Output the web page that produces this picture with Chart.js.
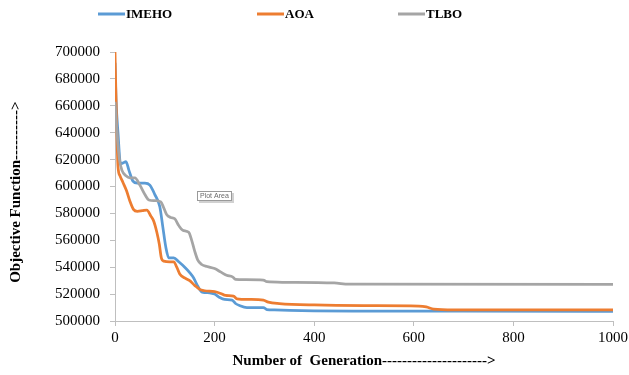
<!DOCTYPE html>
<html>
<head>
<meta charset="utf-8">
<script src="https://cdn.jsdelivr.net/npm/chart.js@4.4.1/dist/chart.umd.min.js"></script>
<style>
html,body{margin:0;padding:0;background:#fff;}
#wrap{width:629px;height:375px;position:relative;}
</style>
</head>
<body>
<div id="wrap"><canvas id="c" width="629" height="375"></canvas></div>
<script>
const seriesNames = ['IMEHO', 'AOA', 'TLBO'];
const seriesColors = ['#5B9BD5', '#ED7D31', '#A5A5A5'];
const xTicks = [0, 200, 400, 600, 800, 1000];
const yTicks = [500000, 520000, 540000, 560000, 580000, 600000, 620000, 640000, 660000, 680000, 700000];

const imehoData = [
  [0,692000],[2,665000],[6,640000],[11,617000],[16,617500],[22,618500],[28,612000],[36,604000],
  [45,602500],[60,602500],[70,601000],[80,594000],[90,585000],[96,570000],[102,555000],[108,547000],
  [118,547000],[128,544000],[140,540000],[150,536000],[158,532000],[166,526000],[175,521500],
  [190,521000],[200,520000],[210,517500],[220,516000],[235,515500],[242,513000],[250,511500],
  [265,510000],[285,510000],[298,510000],[305,508500],[320,508200],[400,507600],[500,507400],
  [700,507300],[1000,507200]
];
const aoaData = [
  [0,700000],[3,650000],[6,615000],[10,608000],[16,603000],[23,597000],[30,589000],[37,583000],
  [45,581500],[55,582000],[64,582500],[72,578000],[78,574000],[84,566000],[89,557000],[93,547000],
  [98,544500],[110,544000],[118,544000],[124,540000],[130,535000],[140,532000],[150,530000],
  [160,526500],[170,523500],[180,522500],[200,521800],[212,520500],[222,519000],[238,518500],
  [245,516500],[270,516000],[298,515500],[308,514000],[330,513000],[400,511900],[500,511400],
  [610,511100],[625,510500],[640,508800],[680,508200],[1000,508200]
];
const tlboData = [
  [0,663000],[4,640000],[9,620000],[14,612000],[22,608000],[30,606500],[40,606500],[50,601000],
  [60,594000],[68,590000],[80,589500],[92,588500],[98,584000],[104,579000],[112,577000],[120,576000],
  [128,571000],[136,567500],[148,566000],[154,560000],[160,552000],[166,545500],[174,542000],
  [185,540500],[200,539000],[212,536500],[224,534000],[236,532800],[242,531000],[260,530700],
  [298,530400],[305,529200],[340,528800],[440,528300],[470,527400],[1000,527300]
];
const allSeries = [imehoData, aoaData, tlboData];

const xTitle = 'Number of  Generation--------------------->';
const yTitle = 'Objective Function---------->   ';

const serif = "'Liberation Serif', 'Times New Roman', serif";

const legendPlugin = {
  id: 'customLegend',
  afterDraw(chart) {
    const ctx = chart.ctx;
    const starts = [98, 257, 398];
    ctx.save();
    ctx.font = 'bold 13px ' + serif;
    ctx.textBaseline = 'middle';
    ctx.textAlign = 'left';
    chart.data.datasets.forEach((ds, i) => {
      const x = starts[i];
      ctx.strokeStyle = ds.borderColor;
      ctx.lineWidth = 3;
      ctx.beginPath();
      ctx.moveTo(x, 14);
      ctx.lineTo(x + 27, 14);
      ctx.stroke();
      ctx.fillStyle = '#000';
      ctx.fillText(ds.label, x + 28, 14.5);
    });
    ctx.restore();
  }
};

const plotAreaTag = {
  id: 'plotAreaTag',
  afterDraw(chart) {
    const ctx = chart.ctx;
    ctx.save();
    ctx.fillStyle = 'rgba(0,0,0,0.18)';
    ctx.fillRect(199, 193, 35, 10);
    ctx.fillStyle = '#fff';
    ctx.fillRect(197, 191, 35, 10);
    ctx.strokeStyle = '#9a9a9a';
    ctx.lineWidth = 1;
    ctx.strokeRect(197.5, 191.5, 34, 9);
    ctx.fillStyle = '#6a6a6a';
    ctx.font = "7px 'Liberation Sans', Arial, sans-serif";
    ctx.textBaseline = 'middle';
    ctx.textAlign = 'left';
    ctx.fillText('Plot Area', 200, 196.5);
    ctx.restore();
  }
};

const bgPlugin = {
  id: 'bg',
  beforeDraw(chart) {
    const ctx = chart.ctx;
    ctx.save();
    ctx.fillStyle = '#fff';
    ctx.fillRect(0, 0, chart.width, chart.height);
    ctx.restore();
  }
};

new Chart(document.getElementById('c'), {
  type: 'line',
  data: {
    datasets: seriesNames.map((name, i) => ({
      label: name,
      data: allSeries[i].map(p => ({x: p[0], y: p[1]})),
      borderColor: seriesColors[i],
      backgroundColor: seriesColors[i],
      borderWidth: 2.75,
      pointRadius: 0,
      fill: false,
      cubicInterpolationMode: 'monotone',
      order: 3 - i
    }))
  },
  options: {
    responsive: false,
    animation: false,
    layout: { padding: { top: 52, right: 16, left: 0, bottom: 0 } },
    plugins: {
      legend: { display: false },
      tooltip: { enabled: false }
    },
    scales: {
      x: {
        type: 'linear',
        min: 0, max: 1000,
        afterBuildTicks(scale) { scale.ticks = xTicks.map(v => ({value: v})); },
        afterFit(scale) { scale.height = 54; scale.paddingRight = 0; scale.paddingLeft = 0; },
        ticks: { color: '#000', font: { family: serif, size: 15 }, padding: 3, maxRotation: 0, callback: v => String(v) },
        grid: { drawOnChartArea: false, drawTicks: true, tickLength: 5, color: '#bfbfbf' },
        border: { display: true, color: '#bfbfbf', width: 1 },
        title: { display: true, text: xTitle, color: '#000', font: { family: serif, size: 15, weight: 'bold' }, padding: { top: 0, bottom: 5 } }
      },
      y: {
        type: 'linear',
        min: 500000, max: 700000,
        afterBuildTicks(scale) { scale.ticks = yTicks.map(v => ({value: v})); },
        afterFit(scale) { scale.width = 115; },
        ticks: { color: '#000', font: { family: serif, size: 15 }, padding: 10, callback: v => String(v) },
        grid: { drawOnChartArea: false, drawTicks: true, tickLength: 5, color: '#bfbfbf' },
        border: { display: true, color: '#bfbfbf', width: 1 },
        title: { display: true, text: yTitle, color: '#000', font: { family: serif, size: 15, weight: 'bold' }, padding: { top: 7, bottom: 0 } }
      }
    }
  },
  plugins: [bgPlugin, legendPlugin, plotAreaTag]
});
</script>
</body>
</html>
